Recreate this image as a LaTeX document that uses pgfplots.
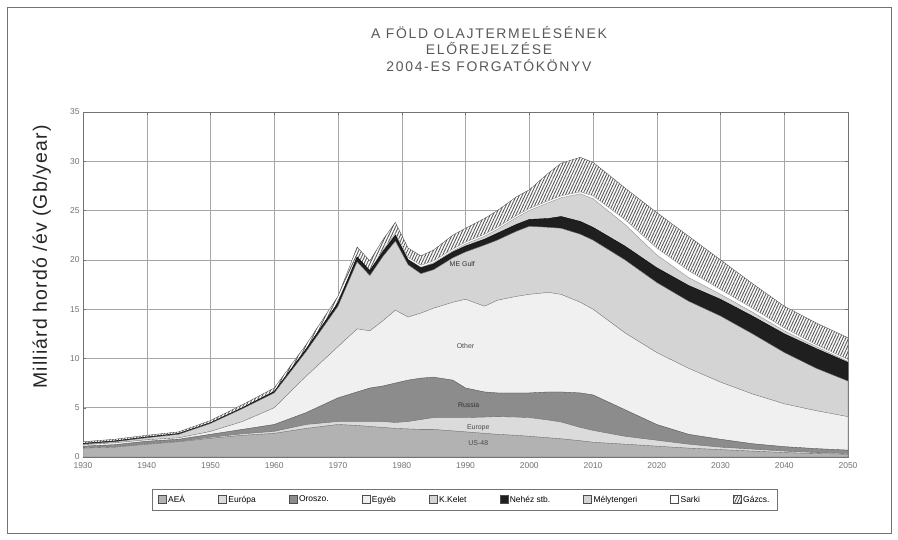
\documentclass[border=0pt]{standalone}
\usepackage{fontspec}
\setmainfont{Liberation Sans}
\usepackage{pgfplots}
\pgfplotsset{compat=1.18}
\usepackage{pgfplotstable}
\usetikzlibrary{patterns.meta}

\pgfplotstableread{
year c1 c2 c3 c4 c5 c6 c7 c8 c9
1930 0.90 0.95 1.10 1.25 1.30 1.38 1.38 1.38 1.55
1935 1.00 1.05 1.25 1.45 1.55 1.63 1.63 1.63 1.80
1940 1.30 1.35 1.60 1.75 1.95 2.03 2.03 2.03 2.20
1945 1.55 1.60 1.80 1.95 2.30 2.38 2.38 2.38 2.55
1950 1.90 2.00 2.30 2.60 3.40 3.48 3.48 3.48 3.70
1955 2.20 2.35 2.80 3.60 4.90 5.00 5.00 5.00 5.30
1960 2.40 2.60 3.30 5.00 6.50 6.65 6.65 6.65 7.00
1965 2.90 3.30 4.50 8.20 10.70 10.95 10.95 10.95 11.40
1970 3.30 3.60 6.00 11.20 15.30 15.65 15.65 15.65 16.30
1973 3.20 3.60 6.60 13.00 19.80 20.30 20.30 20.30 21.30
1975 3.10 3.60 7.00 12.80 18.40 18.90 18.90 18.90 19.90
1977 3.00 3.60 7.20 13.80 20.30 20.80 20.85 20.95 22.00
1979 2.90 3.50 7.50 14.90 21.90 22.50 22.55 22.70 23.80
1981 2.85 3.60 7.80 14.20 19.50 20.00 20.05 20.25 21.20
1983 2.80 3.80 8.00 14.60 18.60 19.20 19.25 19.45 20.40
1985 2.80 4.00 8.10 15.10 19.00 19.60 19.70 19.90 21.00
1988 2.65 4.00 7.80 15.70 20.20 20.80 20.90 21.10 22.50
1990 2.55 4.00 7.00 16.00 20.80 21.40 21.60 21.80 23.20
1993 2.40 4.05 6.60 15.30 21.50 22.10 22.40 22.60 24.20
1995 2.30 4.10 6.50 15.90 22.00 22.70 23.10 23.30 25.00
1998 2.20 4.05 6.50 16.30 22.90 23.60 24.30 24.50 26.40
2000 2.10 4.00 6.50 16.50 23.40 24.10 25.00 25.20 27.10
2003 1.95 3.75 6.60 16.70 23.30 24.20 25.80 26.00 28.80
2005 1.85 3.55 6.60 16.50 23.20 24.40 26.30 26.50 29.80
2008 1.65 3.00 6.50 15.70 22.60 23.90 26.70 26.90 30.40
2010 1.50 2.70 6.30 15.00 22.00 23.30 26.20 26.50 29.90
2015 1.30 2.10 4.80 12.60 20.00 21.40 23.60 24.10 27.30
2020 1.10 1.70 3.30 10.60 17.70 19.20 20.50 21.20 24.80
2025 0.90 1.30 2.30 9.00 15.80 17.40 18.20 18.90 22.40
2030 0.75 1.00 1.80 7.60 14.30 16.00 16.50 17.00 20.00
2035 0.60 0.80 1.35 6.40 12.50 14.30 14.70 15.10 17.60
2040 0.45 0.60 1.05 5.40 10.60 12.50 12.80 13.10 15.30
2045 0.35 0.45 0.85 4.70 9.00 11.00 11.20 11.40 13.60
2050 0.28 0.35 0.70 4.10 7.70 9.60 9.70 9.90 12.10
}\oil

\begin{document}
\begin{tikzpicture}
\path[use as bounding box] (0,0) rectangle (898bp,540bp);
\fill[white] (0,0) rectangle (898bp,540bp);
\draw[black!55, line width=0.7pt] (7bp,7bp) rectangle (891bp,533bp);
\node[align=center, text=black!65, font=\fontsize{14}{16.5}\selectfont\addfontfeature{LetterSpace=12}] at (489bp,491bp)
  {A FÖLD OLAJTERMELÉSÉNEK\\ELŐREJELZÉSE\\2004-ES FORGATÓKÖNYV};
\begin{axis}[
  at={(83bp,83bp)}, anchor=south west, scale only axis,
  width=765bp, height=345bp,
  xmin=1930, xmax=2050, ymin=0, ymax=35,
  xtick={1930,1940,...,2050}, ytick={0,5,...,35},
  /pgf/number format/1000 sep={},
  /pgf/number format/assume math mode=true,
  grid=major, grid style={black!35, line width=0.5pt},
  axis line style={black!55},
  tick style={black!55}, major tick length=3bp,
  ticklabel style={font=\fontsize{8.5}{10}\selectfont, text=black!55},
  xticklabel style={yshift=-2bp},
  ylabel={Milliárd hordó /év (Gb/year)},
  ylabel style={at={(axis description cs:-0.054,0.58)}, anchor=center, rotate=0, font=\fontsize{19.5}{22}\selectfont\addfontfeature{LetterSpace=6}, text=black!85},
  legend columns=9, reverse legend,
  legend style={at={(0.499,-0.093)}, anchor=north, draw=black!55, font=\fontsize{8.5}{10}\selectfont,
    inner ysep=4bp, inner xsep=6bp,
    /tikz/every even column/.append style={column sep=31bp}},
  legend image code/.code={\draw[#1, draw=black!70, line width=0.3pt] (0bp,-3.5bp) rectangle (8bp,4.5bp);},
  every axis plot/.append style={line width=0.35pt},
]
\addplot[fill=white, draw=none, forget plot] table[x=year,y=c9]{\oil} \closedcycle;
\addplot[draw=black!70, pattern={Lines[angle=65,distance=2.6bp,line width=0.9bp]}, pattern color=black!65] table[x=year,y=c9]{\oil} \closedcycle;
\addlegendentry{Gázcs.}
\addplot[draw=black!45, fill=white] table[x=year,y=c8]{\oil} \closedcycle;
\addlegendentry{Sarki}
\addplot[draw=black!45, fill=black!17] table[x=year,y=c7]{\oil} \closedcycle;
\addlegendentry{Mélytengeri}
\addplot[draw=black, fill=black!88] table[x=year,y=c6]{\oil} \closedcycle;
\addlegendentry{Nehéz stb.}
\addplot[draw=black!60, fill=black!17] table[x=year,y=c5]{\oil} \closedcycle;
\addlegendentry{K.Kelet}
\addplot[draw=black!60, fill=black!6] table[x=year,y=c4]{\oil} \closedcycle;
\addlegendentry{Egyéb}
\addplot[draw=black!70, fill=black!45] table[x=year,y=c3]{\oil} \closedcycle;
\addlegendentry{Oroszo.}
\addplot[draw=black!60, fill=black!14] table[x=year,y=c2]{\oil} \closedcycle;
\addlegendentry{Európa}
\addplot[draw=black!60, fill=black!30] table[x=year,y=c1]{\oil} \closedcycle;
\addlegendentry{AEÁ}
\node[font=\fontsize{7}{8}\selectfont, text=black!80] at (axis cs:1989.5,19.6) {ME Gulf};
\node[font=\fontsize{7}{8}\selectfont, text=black!70] at (axis cs:1990,11.3) {Other};
\node[font=\fontsize{7}{8}\selectfont, text=black!80] at (axis cs:1990.5,5.3) {Russia};
\node[font=\fontsize{7}{8}\selectfont, text=black!70] at (axis cs:1992,3.0) {Europe};
\node[font=\fontsize{7}{8}\selectfont, text=black!70] at (axis cs:1992,1.4) {US-48};
\end{axis}
\end{tikzpicture}
\end{document}
